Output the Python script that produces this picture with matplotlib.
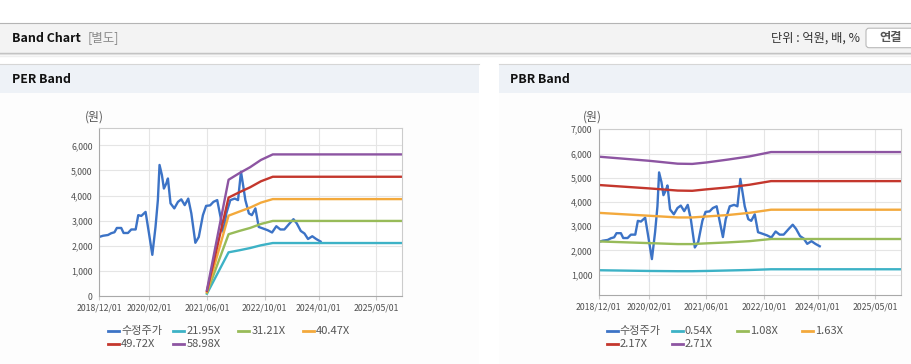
import pandas as pd
import matplotlib
matplotlib.use('Agg')
import matplotlib.pyplot as plt
import matplotlib.dates as mdates
from matplotlib.patches import Rectangle, FancyBboxPatch
from matplotlib.lines import Line2D
from matplotlib.transforms import IdentityTransform
from matplotlib.ticker import FuncFormatter

plt.rcParams['font.family'] = ['Noto Sans CJK KR', 'DejaVu Sans']

W, H = 912, 364

# adjusted share price (수정주가)
price_dates = ['2018-12-01', '2019-01-04', '2019-02-15', '2019-03-14', '2019-04-11', '2019-05-01',
               '2019-06-07', '2019-06-27', '2019-08-03', '2019-08-31', '2019-10-07', '2019-10-29',
               '2019-11-24', '2019-12-30', '2020-01-28', '2020-02-25', '2020-03-23', '2020-04-12',
               '2020-04-26', '2020-05-16', '2020-06-02', '2020-06-22', '2020-07-06', '2020-07-28',
               '2020-08-29', '2020-09-29', '2020-10-27', '2020-11-25', '2020-12-25', '2021-01-20',
               '2021-02-23', '2021-03-24', '2021-04-28', '2021-05-25', '2021-06-28', '2021-07-26',
               '2021-08-27', '2021-09-24', '2021-10-19', '2021-11-12', '2021-12-16', '2022-01-22',
               '2022-02-19', '2022-03-16', '2022-04-06', '2022-04-22', '2022-05-22', '2022-06-16',
               '2022-07-16', '2022-08-13', '2022-09-18', '2022-10-28', '2022-12-04', '2023-01-09',
               '2023-02-12', '2023-03-18', '2023-05-01', '2023-06-03', '2023-07-01', '2023-08-04',
               '2023-09-04', '2023-10-04', '2023-11-09', '2023-12-12', '2024-01-18']
price = [2350, 2400, 2430, 2500, 2540, 2710,
         2710, 2510, 2510, 2650, 2650, 3220,
         3190, 3350, 2490, 1640, 2750, 3820,
         5220, 4820, 4280, 4480, 4680, 3690,
         3490, 3750, 3850, 3620, 3880, 3290,
         2120, 2350, 3220, 3590, 3610, 3750,
         3820, 3150, 2550, 3290, 3820, 3880,
         3820, 4950, 4320, 3820, 3290, 3220,
         3490, 2750, 2690, 2620, 2530, 2780,
         2650, 2650, 2890, 3060, 2890, 2590,
         2490, 2270, 2380, 2270, 2170]

# PER band
per_dates = ['2021-06-01', '2021-12-01', '2022-03-01', '2022-06-01', '2022-09-01', '2022-12-10', '2025-12-07']
per_2195 = [90, 1740, 1820, 1910, 2020, 2110, 2110]
per_3121 = [125, 2460, 2590, 2710, 2870, 2990, 2990]
per_4047 = [160, 3200, 3360, 3520, 3720, 3860, 3860]
per_4972 = [200, 3920, 4130, 4330, 4570, 4750, 4750]
per_5898 = [235, 4630, 4890, 5130, 5420, 5640, 5640]
per_labels = ['21.95X', '31.21X', '40.47X', '49.72X', '58.98X']

# PBR band
pbr_dates = ['2018-12-01', '2020-02-01', '2020-10-01', '2021-02-01', '2021-06-01',
             '2021-12-01', '2022-06-01', '2022-12-01', '2025-12-07']
pbr_054 = [1180, 1150, 1140, 1140, 1150, 1170, 1190, 1220, 1220]
pbr_108 = [2370, 2300, 2260, 2260, 2290, 2330, 2380, 2470, 2470]
pbr_163 = [3550, 3430, 3360, 3360, 3400, 3460, 3550, 3680, 3680]
pbr_217 = [4700, 4560, 4470, 4460, 4520, 4600, 4710, 4860, 4860]
pbr_271 = [5870, 5700, 5580, 5570, 5630, 5750, 5880, 6060, 6060]
pbr_labels = ['0.54X', '1.08X', '1.63X', '2.17X', '2.71X']

xtick_dates = ['2018-12-01', '2020-02-01', '2021-06-01', '2022-10-01', '2024-01-01', '2025-05-01']

c_price = '#3c73c6'
band_colors = ['#3db2c6', '#98bb59', '#f3a93c', '#c4372d', '#8d55a2']

fig = plt.figure(figsize=(W / 100, H / 100), dpi=100)
fig.patch.set_facecolor('white')


def fx(px):
    return px / W


def fy(py):
    return 1 - py / H


def box(x0, y0, x1, y1, color):
    fig.patches.append(Rectangle((x0, H - y1), x1 - x0, y1 - y0, transform=IdentityTransform(),
                                 facecolor=color, edgecolor='none', zorder=-10))


def hline(x0, x1, y, color, lw=0.8):
    fig.add_artist(Line2D([fx(x0), fx(x1)], [fy(y), fy(y)], color=color, lw=lw,
                          transform=fig.transFigure, zorder=-5))


# header bar
box(0, 22.5, W, 52.5, '#f3f3f3')
hline(0, W, 22.5, '#b4b4b4')
hline(0, W, 53, '#bdbdbd', lw=1.0)
hline(0, W, 54.3, '#dedede', lw=1.0)
hline(0, W, 55.5, '#efefef', lw=1.0)

# panels
for x0, x1 in [(0, 478.7), (498.7, W)]:
    box(x0, 64.5, x1, 92.5, '#eef2f7')
    box(x0, 92.5, x1, H, '#fdfdfd')
    hline(x0, x1, 64.3, '#d6d6d6')

fig.text(fx(12), fy(38), 'Band Chart', fontsize=8.9, fontweight='bold', va='center', color='#111111')
fig.text(fx(88), fy(38), '[별도]', fontsize=9, va='center', color='#8a8a8a')
fig.text(fx(860), fy(38), '단위 : 억원, 배, %', fontsize=8.8, ha='right', va='center', color='#333333')
fig.patches.append(FancyBboxPatch((866, H - 47.7), 60, 19.5, boxstyle='round,pad=0,rounding_size=3',
                                  transform=IdentityTransform(), facecolor='white', edgecolor='#b9b9b9',
                                  lw=0.8, zorder=-4))
fig.text(fx(891), fy(38), '연결', fontsize=8.8, ha='center', va='center', color='#555555', fontweight='bold')

fig.text(fx(12), fy(79.5), 'PER Band', fontsize=8.9, fontweight='bold', va='center', color='#111111')
fig.text(fx(510.5), fy(79.5), 'PBR Band', fontsize=8.9, fontweight='bold', va='center', color='#111111')


def make_axes(left, right, top, bottom):
    ax = fig.add_axes([fx(left), fy(bottom), fx(right) - fx(left), fy(top) - fy(bottom)])
    ax.set_zorder(1)
    ax.set_facecolor('white')
    for s in ['left', 'bottom']:
        ax.spines[s].set_color('#a9a9a9')
    for s in ['top', 'right']:
        ax.spines[s].set_color('#cccccc')
    for s in ax.spines.values():
        s.set_linewidth(0.8)
    ax.grid(True, color='#e5e5e5', lw=0.8)
    ax.set_axisbelow(True)
    ax.set_xlim(pd.Timestamp('2018-12-01'), pd.Timestamp('2025-12-07'))
    ax.set_xticks(pd.to_datetime(xtick_dates))
    ax.xaxis.set_major_formatter(mdates.DateFormatter('%Y/%m/%d'))
    ax.yaxis.set_major_formatter(FuncFormatter(lambda v, p: f'{int(v):,}'))
    ax.tick_params(axis='x', length=3, color='#cccccc', pad=2.5, labelsize=6.3, labelcolor='#505050')
    ax.tick_params(axis='y', length=0, pad=4.5, labelsize=6.3, labelcolor='#505050')
    return ax


def legend(x0, labels, colors):
    xs = [x0, x0 + 65, x0 + 130, x0 + 195]
    for i, (lab, col) in enumerate(zip(labels, colors)):
        row, colpos = divmod(i, 4)
        y = 330.7 + row * 13.5
        fig.add_artist(Line2D([fx(xs[colpos]), fx(xs[colpos] + 11)], [fy(y), fy(y)], color=col, lw=2.0,
                              transform=fig.transFigure))
        fig.text(fx(xs[colpos] + 13), fy(y), lab, fontsize=8, va='center', color='#555555')


# PER chart
ax1 = make_axes(99, 402, 128.3, 296)
ax1.set_ylim(0, 6680)
ax1.set_yticks(range(0, 7000, 1000))
ax1.plot(pd.to_datetime(price_dates), price, color=c_price, lw=1.7)
for vals, col in zip([per_2195, per_3121, per_4047, per_4972, per_5898], band_colors):
    ax1.plot(pd.to_datetime(per_dates), vals, color=col, lw=1.7)
fig.text(fx(94.5), fy(117), '(원)', fontsize=8.6, ha='center', va='center', color='#555555')
legend(108.3, ['수정주가'] + per_labels, [c_price] + band_colors)

# PBR chart
ax2 = make_axes(598.7, 901, 129.3, 295.3)
ax2.set_ylim(145, 7000)
ax2.set_yticks(range(1000, 8000, 1000))
ax2.plot(pd.to_datetime(price_dates), price, color=c_price, lw=1.7)
for vals, col in zip([pbr_054, pbr_108, pbr_163, pbr_217, pbr_271], band_colors):
    ax2.plot(pd.to_datetime(pbr_dates), vals, color=col, lw=1.7)
fig.text(fx(592.5), fy(117), '(원)', fontsize=8.6, ha='center', va='center', color='#555555')
legend(606.7, ['수정주가'] + pbr_labels, [c_price] + band_colors)

fig.savefig('out.png', dpi=100)
